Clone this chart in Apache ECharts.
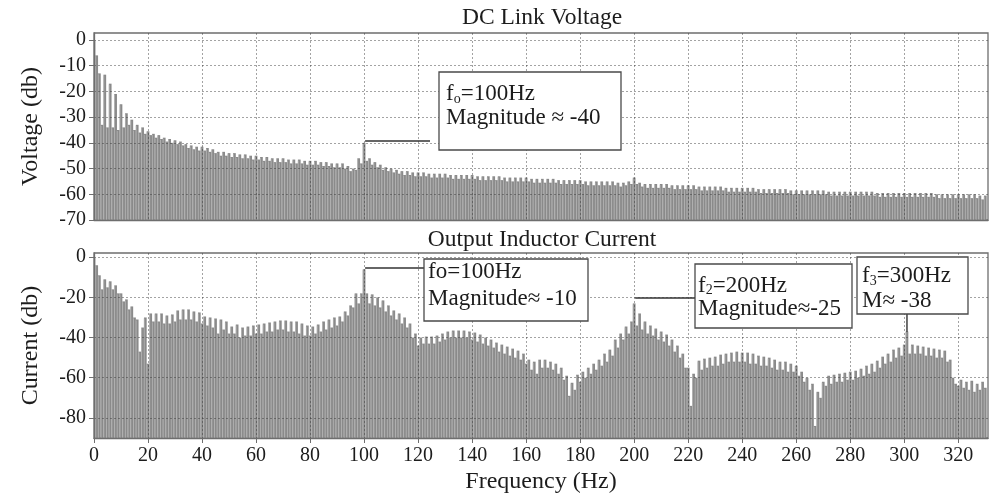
<!DOCTYPE html>
<html>
<head>
<meta charset="utf-8">
<script src="https://cdn.jsdelivr.net/npm/echarts@6/dist/echarts.min.js"></script>
<style>
html,body{margin:0;padding:0;background:#ffffff;}
#chart{width:991px;height:495px;}
</style>
</head>
<body>
<div id="chart"></div>
<script>
// ---------- data ----------
const FREQ_STEP_HZ = 1; // one spectral line per Hz, index i -> i Hz

const chartTitles = ['DC Link Voltage', 'Output Inductor Current'];
const axisNames = { voltage: 'Voltage (db)', current: 'Current (db)', freq: 'Frequency (Hz)' };

const freqTicks = [0, 20, 40, 60, 80, 100, 120, 140, 160, 180, 200, 220, 240, 260, 280, 300, 320];
const voltageTicks = [-70, -60, -50, -40, -30, -20, -10, 0];
const currentTicks = [-80, -60, -40, -20, 0];

// DC link voltage spectrum (dB), 0..330 Hz
const voltageDb = [
  0, -6, -13, -33, -13.5, -34, -17, -34, -21, -35,
  -25, -34, -28.5, -33, -31, -35, -33, -36, -34, -36.5,
  -35.5, -37, -36.5, -38, -37, -38.5, -38, -39.5, -38.5, -40,
  -39, -40.5, -39.5, -41, -40.5, -42, -41, -42.5, -41.5, -43,
  -41.5, -43, -42, -43.5, -42.5, -44, -43.5, -45, -43.5, -45,
  -44, -45.5, -44, -45.5, -44.5, -46, -44.5, -46, -45, -46.5,
  -45, -46.5, -45.5, -47, -45.5, -47, -46, -47.5, -46, -47.5,
  -46, -47.5, -46.5, -48, -46.5, -48, -46.5, -48, -47, -48.5,
  -47, -48.5, -47, -48.5, -47.5, -49, -47.5, -49, -48, -49.5,
  -48, -49.5, -48, -50, -49, -51, -50, -50.5, -46, -48,
  -40, -47, -46, -48.5, -47.5, -49.5, -48.5, -50.5, -49.5, -51,
  -50, -51.5, -50.5, -52, -51, -52.5, -51, -52.5, -51.5, -53,
  -51.5, -53, -51.5, -53, -52, -53.5, -52, -53.5, -52, -53.5,
  -52, -53.5, -52.5, -54, -52.5, -54, -52.5, -54, -52.5, -54,
  -52.5, -54, -53, -54.5, -53, -54.5, -53, -54.5, -53, -54.5,
  -53, -54.5, -53.5, -55, -53.5, -55, -53.5, -55, -53.5, -55,
  -53.5, -55, -54, -55.5, -54, -55.5, -54, -55.5, -54, -55.5,
  -54, -55.5, -54.5, -56, -54.5, -56, -54.5, -56, -54.5, -56,
  -54.5, -56, -55, -56.5, -55, -56.5, -55, -56.5, -55, -56.5,
  -55, -56.5, -55, -56.5, -55.5, -57, -55.5, -56.5, -55, -56,
  -53.5, -56, -55.5, -57, -56, -57.5, -56, -57.5, -56, -57.5,
  -56, -57.5, -56, -57.5, -56.5, -58, -56.5, -58, -56.5, -58,
  -56.5, -58, -56.5, -58, -57, -58.5, -57, -58.5, -57, -58.5,
  -57, -58.5, -57, -58.5, -57.5, -59, -57.5, -59, -57.5, -59,
  -57.5, -59, -57.5, -59, -57.5, -59, -58, -59.5, -58, -59.5,
  -58, -59.5, -58, -59.5, -58, -59.5, -58, -59.5, -58.5, -60,
  -58.5, -60, -58.5, -60, -58.5, -60, -58.5, -60, -58.5, -60,
  -58.5, -60, -59, -60.5, -59, -60.5, -59, -60.5, -59, -60.5,
  -59, -60.5, -59, -60.5, -59, -60.5, -59, -60.5, -59, -60.5,
  -59.5, -61, -59.5, -61, -59.5, -61, -59.5, -61, -59.5, -61,
  -59.5, -61, -59.5, -61, -59.5, -61, -59.5, -61, -59.5, -61,
  -59.5, -61, -60, -61.5, -60, -61.5, -60, -61.5, -60, -61.5,
  -60, -61.5, -60, -61.5, -60, -61.5, -60, -61.5, -60.5, -62,
  -60.5
];

// Output inductor current spectrum (dB), 0..330 Hz
const currentDb = [
  0, -4, -9, -16, -11, -15, -12, -16, -14, -18,
  -18, -22, -21, -26, -24.5, -30, -31, -47, -35, -30,
  -53, -28, -32, -28, -32, -28, -33, -29, -33, -28.5,
  -32, -26.5, -31, -26, -31, -26, -31, -27, -32, -27.5,
  -33, -29.5, -34, -30, -35, -30.5, -38, -31, -36, -32,
  -38, -34.5, -38, -33.5, -40, -35, -39, -34.5, -39, -34,
  -38, -33.5, -38, -33, -37, -32.5, -37, -32, -36, -31.5,
  -36, -31.5, -37, -32, -37, -32, -38, -33, -39, -34,
  -39, -34.5, -38, -33.5, -37, -32, -36, -31, -35, -30,
  -34, -29.5, -32, -27, -29, -24, -25, -18, -23, -18,
  -6, -18, -23, -18.5, -24, -20, -25, -21.5, -27, -24,
  -29, -26.5, -31, -28, -33, -30, -35, -33, -40, -38,
  -44, -40, -43, -39.5, -43, -39.5, -43, -39, -42, -38,
  -41, -37, -40, -36.5, -40, -36.5, -40, -36.5, -40, -37,
  -41, -37.5, -42, -38.5, -43, -40, -44, -41, -45, -42.5,
  -47, -43.5, -48, -44.5, -49, -45.5, -50, -46.5, -51, -48,
  -53, -51, -56, -52, -58, -51, -55, -51, -55, -52,
  -56, -53, -58, -55, -61, -59, -69, -62.5, -66, -58.5,
  -62, -57, -60, -55, -58, -53, -56, -51, -54, -48,
  -52, -46, -49, -41, -45, -38, -41, -34.5, -38, -32,
  -23, -34, -28, -36, -32, -38, -34, -39, -35.5, -41,
  -37, -42, -38.5, -44, -41, -47, -44, -50, -48, -55,
  -55, -74, -58, -60, -51.5, -56, -50.5, -55, -50, -54,
  -49.5, -54, -48.5, -53, -48, -52, -47.5, -52, -47, -52,
  -47.5, -52, -47.5, -53, -48, -53, -49, -54, -49.5, -54,
  -50, -55, -51, -56, -52, -56, -52, -57, -53, -57,
  -54, -59, -57, -62, -60, -66, -63, -84, -67, -70,
  -62, -64, -59, -63, -58.5, -62, -58, -62, -57.5, -61,
  -57, -61, -56.5, -60, -55.5, -59, -54, -58, -53, -57,
  -51.5, -55, -49.5, -53, -48, -52, -46, -50, -45, -49,
  -43.5, -37, -48, -43.5, -48, -44, -48, -44.5, -49, -45,
  -49, -45.5, -50, -46, -50, -46.5, -52, -51, -60, -63,
  -64, -61, -65, -62, -66, -61.5, -67, -63, -66, -62,
  -65
];

// annotation texts
const noteTop = { line1: '{a|f}{s|o}{a|=100Hz}', line2: 'Magnitude ≈ -40' };
const noteF1 = { line1: 'fo=100Hz', line2: 'Magnitude≈ -10' };
const noteF2 = { line1: '{a|f}{s|2}{a|=200Hz}', line2: 'Magnitude≈-25' };
const noteF3 = { line1: '{a|f}{s|3}{a|=300Hz}', line2: 'M≈ -38' };

// ---------- styling ----------
const FONT = '"Liberation Serif", "Times New Roman", Times, serif';
const BAR = '#8a8a8a';
const BAR_EDGE = '#b9b9b9';
const FRAME = '#6e6e6e';
const TXT = '#1c1c1c';
const GRIDLINE = { show: true, lineStyle: { type: [2, 2], color: 'rgba(50,50,50,0.45)', width: 1 } };

function barSeries(values, idx, minVal) {
  return {
    type: 'custom',
    xAxisIndex: idx,
    yAxisIndex: idx,
    clip: true,
    z: 2,
    data: values.map((v, i) => [i * FREQ_STEP_HZ, v]),
    renderItem: function (params, api) {
      const f = api.value(0), v = api.value(1);
      const top = api.coord([f, v]);
      const bot = api.coord([f, minVal]);
      const w = api.size([FREQ_STEP_HZ, 0])[0];
      const x0 = top[0] - w / 2;
      return {
        type: 'group',
        children: [
          { type: 'rect', shape: { x: x0, y: top[1], width: w, height: bot[1] - top[1] }, style: { fill: BAR } },
          { type: 'line', shape: { x1: x0 + 0.35, y1: top[1] + 1, x2: x0 + 0.35, y2: bot[1] }, style: { stroke: BAR_EDGE, lineWidth: 0.7 } }
        ]
      };
    }
  };
}

function xAxisCfg(idx, withLabels) {
  return {
    gridIndex: idx, type: 'value', min: 0, max: 331, z: 5,
    axisLine: { show: true, onZero: false, lineStyle: { color: FRAME, width: 1.3 } },
    axisTick: { show: withLabels, length: 5, customValues: freqTicks, lineStyle: { color: FRAME } },
    axisLabel: { show: withLabels, customValues: freqTicks, fontSize: 20, fontFamily: FONT, color: TXT, margin: 8 },
    splitLine: GRIDLINE,
    name: withLabels ? axisNames.freq : '',
    nameLocation: 'middle', nameGap: 32,
    nameTextStyle: { fontSize: 24, fontFamily: FONT, color: TXT }
  };
}

function yAxisCfg(idx, min, max, ticks, name) {
  return {
    gridIndex: idx, type: 'value', min: min, max: max, z: 5,
    axisLine: { show: true, onZero: false, lineStyle: { color: FRAME, width: 1.3 } },
    axisTick: { show: true, length: 5, customValues: ticks, lineStyle: { color: FRAME } },
    axisLabel: { customValues: ticks, fontSize: 20, fontFamily: FONT, color: TXT, margin: 8 },
    splitLine: GRIDLINE,
    name: name, nameLocation: 'middle', nameGap: 51,
    nameTextStyle: { fontSize: 24, fontFamily: FONT, color: TXT }
  };
}

const chart = echarts.init(document.getElementById('chart'), null, { renderer: 'canvas' });
chart.setOption({
  backgroundColor: '#ffffff',
  animation: false,
  textStyle: { fontFamily: FONT },
  grid: [
    { left: 94, top: 33, width: 894, height: 187, show: true, borderColor: FRAME, borderWidth: 1.3, backgroundColor: '#ffffff' },
    { left: 94, top: 253, width: 894, height: 185, show: true, borderColor: FRAME, borderWidth: 1.3, backgroundColor: '#ffffff' }
  ],
  xAxis: [xAxisCfg(0, false), xAxisCfg(1, true)],
  yAxis: [
    yAxisCfg(0, -70, 2.7, voltageTicks, axisNames.voltage),
    yAxisCfg(1, -90, 2.1, currentTicks, axisNames.current)
  ],
  series: [barSeries(voltageDb, 0, -70), barSeries(currentDb, 1, -90)]
});

// ---------- titles and annotations ----------
const px = (gi, f, v) => chart.convertToPixel({ gridIndex: gi }, [f, v]);
const pTop = px(0, 100, voltageDb[100]);
const pC1 = px(1, 100, currentDb[100]);
const pC2 = px(1, 200, currentDb[200]);
const pC3 = px(1, 301, currentDb[301]);

const rich = {
  a: { fontSize: 23, fontFamily: FONT, fill: TXT, lineHeight: 24 },
  s: { fontSize: 14, fontFamily: FONT, fill: TXT, lineHeight: 14, verticalAlign: 'bottom' }
};
function title(text, x, y) {
  return { type: 'text', x: x, y: y, z: 20, style: { text: text, fontSize: 23.5, fontFamily: FONT, fill: TXT, align: 'center', verticalAlign: 'middle' } };
}
function box(x, y, w, h) {
  return { type: 'rect', z: 20, shape: { x: x, y: y, width: w, height: h }, style: { fill: '#ffffff', stroke: '#4a4a4a', lineWidth: 1.3 } };
}
function note(x, y, l1, l2, lh) {
  const r = JSON.parse(JSON.stringify(rich));
  r.a.lineHeight = lh;
  return { type: 'text', x: x, y: y, z: 21, style: { text: (l1.indexOf('{') === 0 ? l1 : '{a|' + l1 + '}') + '\n{a|' + l2 + '}', rich: r, verticalAlign: 'top', align: 'left' } };
}
function seg(x1, y1, x2, y2) {
  return { type: 'line', z: 20, shape: { x1: x1, y1: y1, x2: x2, y2: y2 }, style: { stroke: '#333333', lineWidth: 1.4 } };
}

chart.setOption({
  graphic: [
    title(chartTitles[0], 542, 18),
    title(chartTitles[1], 542, 240),
    // top annotation
    seg(pTop[0] + 1, 141, 430, 141),
    box(439, 72, 182, 78),
    note(446, 82, noteTop.line1, noteTop.line2, 24),
    // bottom annotations
    seg(pC1[0] + 1, 268, 424, 268),
    box(424, 259, 164, 62),
    note(428, 258, noteF1.line1, noteF1.line2, 27),
    seg(pC2[0] + 1, 298, 695, 298),
    box(695, 264, 157, 64),
    note(698, 274, noteF2.line1, noteF2.line2, 23),
    seg(pC3[0], 308, pC3[0], 332),
    box(857, 257, 111, 57),
    note(862, 263, noteF3.line1, noteF3.line2, 25)
  ]
});
</script>
</body>
</html>
